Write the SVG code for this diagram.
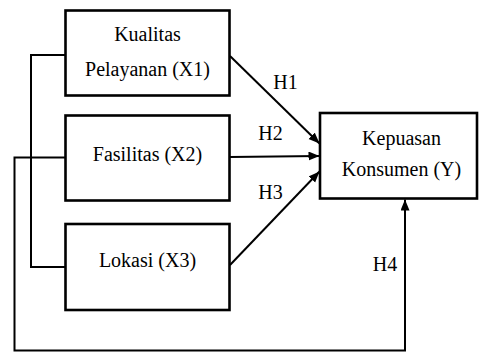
<svg xmlns="http://www.w3.org/2000/svg" width="479" height="352" viewBox="0 0 479 352">
<style>
.box{fill:#fff;stroke:#000;stroke-width:2.6}
.ln{fill:none;stroke:#000;stroke-width:2}
.t{font-family:'Liberation Serif','DejaVu Serif',serif;font-size:20px;fill:#000;text-anchor:middle}
</style>
<defs>
<marker id="ah" markerUnits="userSpaceOnUse" markerWidth="12" markerHeight="10" refX="11" refY="4.5" orient="auto">
<path d="M0,0 L11,4.5 L0,9 Z" fill="#000"/>
</marker>
</defs>
<rect width="479" height="352" fill="#fff"/>
<g id="connectors">
<path class="ln" d="M65,55 H31 V267 H65"/>
<path class="ln" d="M65,157.5 H14.5 V350.5 H405 V199.5" marker-end="url(#ah)"/>
<path class="ln" d="M230,56 L319.5,143.5" marker-end="url(#ah)"/>
<path class="ln" d="M230,157 L319.5,156" marker-end="url(#ah)"/>
<path class="ln" d="M230,265 L319.5,171.5" marker-end="url(#ah)"/>
<text class="t" x="285.5" y="89">H1</text>
<text class="t" x="270.5" y="140">H2</text>
<text class="t" x="270.5" y="199">H3</text>
<text class="t" x="385" y="271">H4</text>
</g>
<g id="x1">
<rect class="box" x="65.5" y="10.5" width="164" height="85"/>
<text class="t" x="147.5" y="41">Kualitas</text>
<text class="t" x="147.5" y="76">Pelayanan (X1)</text>
</g>
<g id="x2">
<rect class="box" x="65.5" y="115.5" width="164" height="85"/>
<text class="t" x="147.5" y="161">Fasilitas (X2)</text>
</g>
<g id="x3">
<rect class="box" x="65.5" y="224" width="164" height="86"/>
<text class="t" x="147.5" y="267">Lokasi (X3)</text>
</g>
<g id="y">
<rect class="box" x="320" y="113" width="157" height="85.5"/>
<text class="t" x="401.5" y="145">Kepuasan</text>
<text class="t" x="401.5" y="176">Konsumen (Y)</text>
</g>
</svg>
